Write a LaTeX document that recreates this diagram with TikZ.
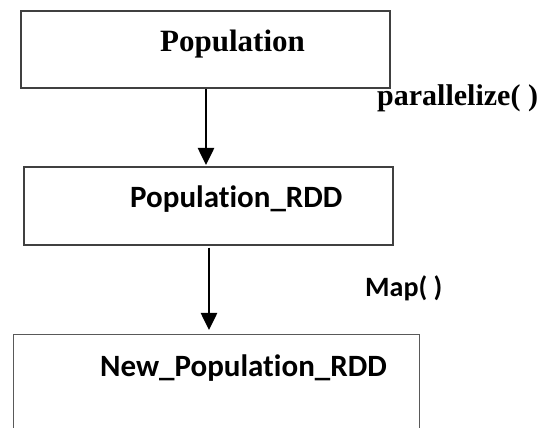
\documentclass[tikz,border=0pt]{standalone}
\usepackage{fontspec}
\setmainfont{Liberation Serif}
\newfontfamily\calibrifont[Ligatures=NoCommon]{Carlito}
\usetikzlibrary{arrows.meta}
\begin{document}
\begin{tikzpicture}[x=1pt,y=1pt,
  stagebox/.style={draw=black!75, line width=1.3pt, inner sep=0pt},
  flow/.style={line width=2.6pt, -{Triangle[width=16pt,length=17pt]}},
  serifbold/.style={font=\fontsize{#1}{36}\selectfont\bfseries},
  sansbold/.style={font=\calibrifont\fontsize{#1}{36}\selectfont\bfseries}]
  \useasboundingbox (0,0) rectangle (538,428);
  \clip (0,0) rectangle (538,428);

  % boxes
  \node[stagebox, minimum width=369pt, minimum height=77pt] (pop) at (205.5,378.5) {};
  \node[stagebox, minimum width=369pt, minimum height=78pt] (rdd) at (208.5,222) {};
  \node[stagebox, draw=black!65, line width=1pt, minimum width=406pt, minimum height=110pt] (newrdd) at (216,38) {};

  % box titles
  \node[serifbold=31, anchor=base, inner sep=0pt] (poplabel) at (232.5,376) {Population};
  \node[sansbold=31, anchor=base west, inner sep=0pt] (rddlabel) at (130,220) {Population\_RDD};
  \node[sansbold=31, anchor=base west, inner sep=0pt] (newlabel) at (100,51) {New\_Population\_RDD};

  % transformations
  \coordinate (a1end) at (206,263);
  \coordinate (a2end) at (209,98);
  \draw[flow] (pop.south -| a1end) -- (a1end);
  \draw[flow] ([yshift=-2pt]rdd.south -| a2end) -- (a2end);
  \node[serifbold=30, anchor=base west, inner sep=0pt] (par) at (377,322) {parallelize( )};
  \node[sansbold=28, anchor=base west, inner sep=0pt] (map) at (365,131) {Map( )};
\end{tikzpicture}
\end{document}
